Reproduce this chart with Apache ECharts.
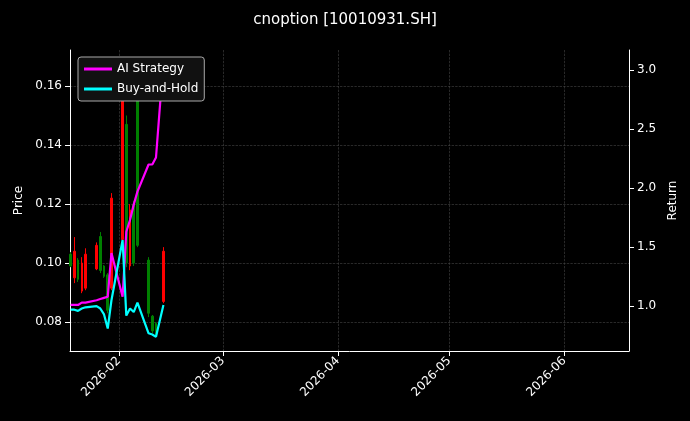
<!DOCTYPE html>
<html>
<head>
<meta charset="utf-8">
<title>cnoption</title>
<script src="https://cdn.jsdelivr.net/npm/echarts@6/dist/echarts.min.js"></script>
</head>
<body style="margin:0;background:#000">
<div id="main" style="width:690px;height:421px;"></div>
<script>
// trading days, candles [open, close, low, high]
var dates = ['2026-01-19','2026-01-20','2026-01-21','2026-01-22','2026-01-23','2026-01-26','2026-01-27','2026-01-28','2026-01-29','2026-01-30',
             '2026-02-02','2026-02-03','2026-02-04','2026-02-05','2026-02-06','2026-02-09','2026-02-10','2026-02-11','2026-02-13'];
var candles = [
  [0.1030, 0.0990, 0.0986, 0.1037],
  [0.0950, 0.1040, 0.0932, 0.1088],
  [0.1010, 0.0945, 0.0936, 0.1017],
  [0.0905, 0.1000, 0.0898, 0.1020],
  [0.0915, 0.1030, 0.0908, 0.1050],
  [0.0980, 0.1060, 0.0976, 0.1070],
  [0.1090, 0.0975, 0.0966, 0.1105],
  [0.0990, 0.0955, 0.0950, 0.0993],
  [0.0960, 0.0840, 0.0830, 0.0966],
  [0.0915, 0.1220, 0.0908, 0.1237],
  [0.1080, 0.1580, 0.1078, 0.1610],
  [0.1470, 0.1000, 0.0986, 0.1500],
  [0.0990, 0.1180, 0.0976, 0.1200],
  [0.1200, 0.1000, 0.0990, 0.1210],
  [0.1560, 0.1060, 0.1054, 0.1576],
  [0.1010, 0.0830, 0.0817, 0.1020],
  [0.0820, 0.0770, 0.0763, 0.0824],
  [0.0795, 0.0755, 0.0750, 0.0800],
  [0.0870, 0.1040, 0.0864, 0.1054]
];
var aiReturn = [1.01, 1.01, 1.01, 1.03, 1.03, 1.05, 1.06, 1.07, 1.08, 1.45, 1.08, 1.63, 1.73, 1.86, 1.97, 2.20, 2.20, 2.26, 3.08];
var bhReturn = [0.97, 0.97, 0.96, 0.98, 0.99, 1.00, 0.98, 0.93, 0.81, 1.05, 1.56, 0.92, 0.98, 0.95, 1.03, 0.77, 0.76, 0.74, 1.01];
var priceTicks = [0.08, 0.10, 0.12, 0.14, 0.16];
var returnTicks = [1.0, 1.5, 2.0, 2.5, 3.0];

var candleData = dates.map(function (d, i) { return [d].concat(candles[i]); });
var aiData = dates.map(function (d, i) { return [d, aiReturn[i]]; });
var bhData = dates.map(function (d, i) { return [d, bhReturn[i]]; });

var txt = '#ffffff';
var gridLine = { show: true, lineStyle: { color: '#444', type: 'dashed', width: 0.6 } };
var DAY = 86400000;

var chart = echarts.init(document.getElementById('main'));
chart.setOption({
  backgroundColor: '#000',
  animation: false,
  title: { text: 'cnoption [10010931.SH]', left: 'center', top: 8,
           textStyle: { color: txt, fontSize: 15, fontWeight: 'normal', fontFamily: 'DejaVu Sans' } },
  legend: {
    left: 78, top: 57, orient: 'vertical', itemWidth: 28, itemHeight: 3, itemGap: 8,
    backgroundColor: '#111', borderColor: '#aaa', borderWidth: 1, borderRadius: 3, padding: [6, 6],
    textStyle: { color: txt, fontSize: 12, fontFamily: 'DejaVu Sans' },
    data: [{ name: 'AI Strategy', icon: 'rect' }, { name: 'Buy-and-Hold', icon: 'rect' }]
  },
  grid: { left: 70, right: 61, top: 50, bottom: 70 },
  xAxis: {
    type: 'time',
    min: +new Date('2026-01-18T20:00:00'), max: +new Date('2026-06-18T10:00:00'),
    minInterval: 28 * DAY, maxInterval: 31 * DAY,
    axisLine: { lineStyle: { color: '#fff' } },
    axisTick: { show: true, lineStyle: { color: '#fff' } },
    axisLabel: { color: txt, rotate: 45, fontSize: 12, fontFamily: 'DejaVu Sans',
                 showMinLabel: false, showMaxLabel: false,
                 formatter: function (v) { var d = new Date(v); return d.getFullYear() + '-' + String(d.getMonth() + 1).padStart(2, '0'); } },
    splitLine: gridLine
  },
  yAxis: [{
    type: 'value', name: 'Price', nameLocation: 'middle', nameGap: 45,
    nameTextStyle: { color: txt, fontSize: 12, fontFamily: 'DejaVu Sans' },
    min: 0.0702, max: 0.1722,
    axisLine: { show: true, lineStyle: { color: '#fff' } },
    axisTick: { show: true, customValues: priceTicks, lineStyle: { color: '#fff' } },
    axisLabel: { customValues: priceTicks, color: txt, fontSize: 12, fontFamily: 'DejaVu Sans',
                 formatter: function (v) { return v.toFixed(2); } },
    splitLine: gridLine
  }, {
    type: 'value', name: 'Return', nameLocation: 'middle', nameGap: 38,
    nameTextStyle: { color: txt, fontSize: 12, fontFamily: 'DejaVu Sans' },
    min: 0.62, max: 3.17,
    axisLine: { show: true, lineStyle: { color: '#fff' } },
    axisTick: { show: true, customValues: returnTicks, lineStyle: { color: '#fff' } },
    axisLabel: { customValues: returnTicks, color: txt, fontSize: 12, fontFamily: 'DejaVu Sans',
                 formatter: function (v) { return v.toFixed(1); } },
    splitLine: { show: false }
  }],
  series: [{
    type: 'candlestick', name: 'Price', yAxisIndex: 0, barWidth: 2,
    itemStyle: { color: '#ff0000', color0: '#008000', borderColor: '#ff0000', borderColor0: '#008000', borderWidth: 1 },
    data: candleData
  }, {
    type: 'line', name: 'AI Strategy', yAxisIndex: 1, showSymbol: false,
    lineStyle: { color: '#ff00ff', width: 2.2 }, itemStyle: { color: '#ff00ff' }, data: aiData
  }, {
    type: 'line', name: 'Buy-and-Hold', yAxisIndex: 1, showSymbol: false,
    lineStyle: { color: '#00ffff', width: 2.2 }, itemStyle: { color: '#00ffff' }, data: bhData
  }]
});
</script>
</body>
</html>
